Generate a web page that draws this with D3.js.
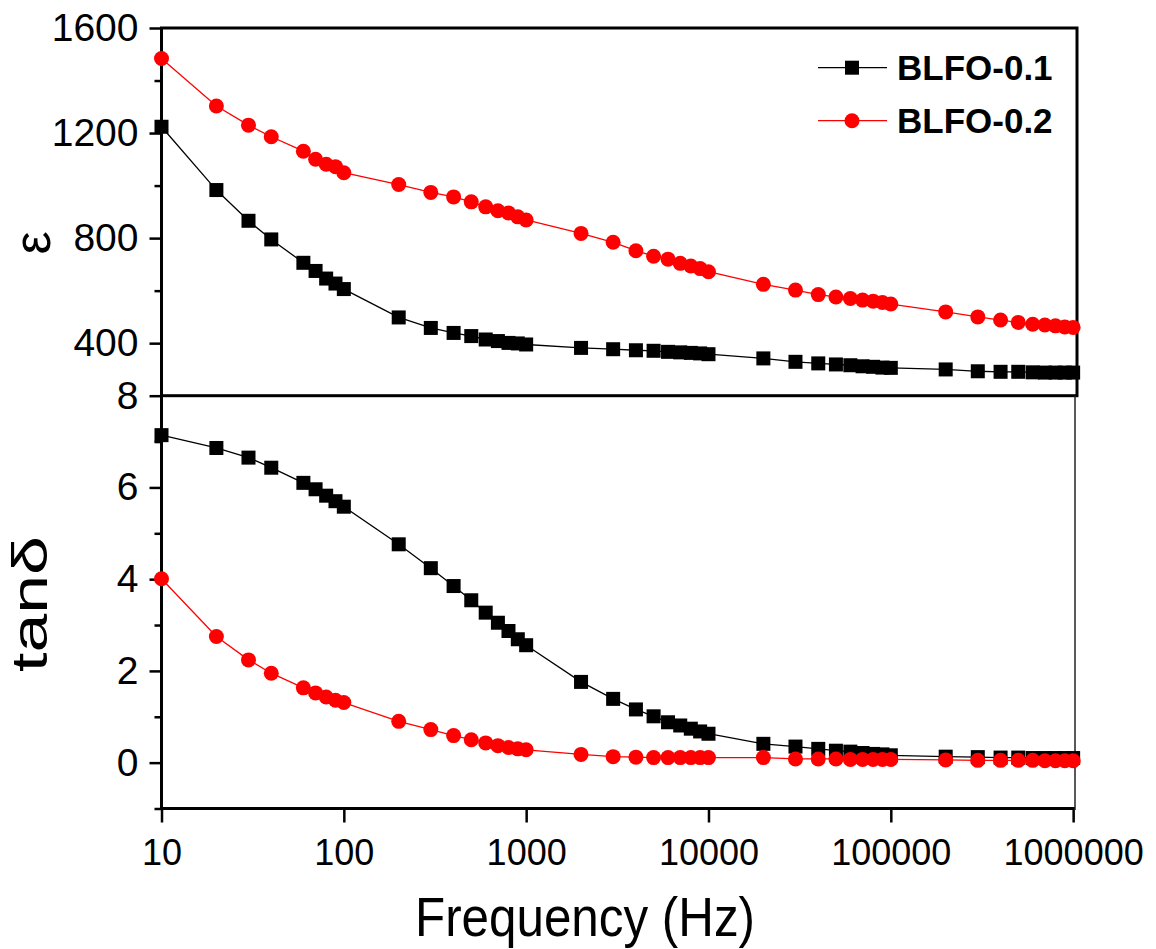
<!DOCTYPE html>
<html>
<head>
<meta charset="utf-8">
<script src="https://cdn.jsdelivr.net/npm/d3@7"></script>
<style>
  body { margin: 0; background: #fff; }
  text { font-family: "Liberation Sans", Arial, sans-serif; }
</style>
</head>
<body>
<div id="chart"></div>
<script>

// frequencies (Hz) - note there is no 50 Hz point in the first decade
var freq = [10, 20, 30, 40, 60, 70, 80, 90, 100,
            200, 300, 400, 500, 600, 700, 800, 900, 1000,
            2000, 3000, 4000, 5000, 6000, 7000, 8000, 9000, 10000,
            20000, 30000, 40000, 50000, 60000, 70000, 80000, 90000, 100000,
            200000, 300000, 400000, 500000, 600000, 700000, 800000, 900000, 1000000];

var eps01 = [1224, 983, 866, 795, 706, 675, 646, 627, 606,
             498, 458, 439, 427, 414, 408, 401, 399, 395,
             382, 377, 373, 371, 367, 365, 363, 361, 358,
             342, 329, 323, 319, 316, 312, 310, 307, 306,
             300, 293, 291, 291, 289, 288, 288, 288, 288];

var eps02 = [1484, 1303, 1230, 1186, 1131, 1100, 1081, 1072, 1049,
             1004, 974, 957, 938, 919, 904, 896, 881, 869,
             818, 784, 752, 731, 720, 704, 694, 684, 672,
             624, 602, 585, 576, 570, 564, 560, 555, 549,
             519, 500, 488, 479, 472, 469, 466, 462, 460];

var tan01 = [7.14, 6.86, 6.65, 6.43, 6.10, 5.96, 5.82, 5.70, 5.58,
             4.76, 4.24, 3.85, 3.54, 3.27, 3.05, 2.87, 2.69, 2.56,
             1.76, 1.39, 1.16, 1.01, 0.88, 0.81, 0.74, 0.68, 0.63,
             0.41, 0.35, 0.30, 0.26, 0.24, 0.21, 0.19, 0.18, 0.16,
             0.13, 0.12, 0.11, 0.11, 0.10, 0.10, 0.10, 0.10, 0.10];

var tan02 = [4.01, 2.75, 2.24, 1.95, 1.63, 1.52, 1.43, 1.36, 1.31,
             0.90, 0.72, 0.59, 0.50, 0.43, 0.37, 0.33, 0.30, 0.28,
             0.18, 0.13, 0.12, 0.11, 0.11, 0.11, 0.11, 0.11, 0.11,
             0.11, 0.08, 0.08, 0.08, 0.07, 0.07, 0.07, 0.07, 0.07,
             0.06, 0.05, 0.05, 0.05, 0.05, 0.04, 0.04, 0.04, 0.04];

var seriesNames = ["BLFO-0.1", "BLFO-0.2"];
var xTicks = [10, 100, 1000, 10000, 100000, 1000000];
var epsTicks = [400, 800, 1200, 1600];
var epsMinor = [600, 1000, 1400];
var tanTicks = [0, 2, 4, 6, 8];
var tanMinor = [-1, 1, 3, 5, 7];

var svg_width = 1156;
var svg_height = 949;
var left = 161.5, right = 1077;
var top1 = 28, mid = 395.7, bottom2 = 808.5;
var sq = 14, rad = 7.5;

var svg = d3.select('#chart')
            .append('svg')
            .attr('width', svg_width)
            .attr('height', svg_height);

var x = d3.scaleLog()
          .domain([10, 1.05e6])
          .range([left, right]);

var yEps = d3.scaleLinear()
             .domain([200, 1600])
             .range([mid, top1]);

var yTan = d3.scaleLinear()
             .domain([-1, 8])
             .range([bottom2, mid]);

function styleAxis(g, fontSize) {
  g.select('.domain').remove();
  g.selectAll('line').attr('stroke', '#000').attr('stroke-width', 2.5);
  g.selectAll('text')
    .attr('fill', '#000')
    .style('font-size', fontSize + 'px')
    .style('font-family', '"Liberation Sans", Arial, sans-serif');
}

// y axes (major + minor ticks, pointing out)
function yAxis(scale, ticks, minor) {
  svg.append('g')
    .attr('transform', 'translate(' + left + ',0)')
    .call(d3.axisLeft(scale).tickValues(minor).tickSize(7).tickFormat(''))
    .call(styleAxis, 39);
  svg.append('g')
    .attr('transform', 'translate(' + left + ',0)')
    .call(d3.axisLeft(scale).tickValues(ticks).tickSize(12).tickPadding(11).tickFormat(d3.format('d')))
    .call(styleAxis, 39);
}
yAxis(yEps, epsTicks, epsMinor);
yAxis(yTan, tanTicks, tanMinor);

// x axis
svg.append('g')
  .attr('transform', 'translate(0,' + bottom2 + ')')
  .call(d3.axisBottom(x).tickValues(xTicks).tickSize(14).tickPadding(17).tickFormat(d3.format('d')))
  .call(styleAxis, 36);

// frames
svg.append('rect')
  .attr('x', left).attr('y', top1)
  .attr('width', right - left).attr('height', mid - top1)
  .attr('fill', 'none').attr('stroke', '#000').attr('stroke-width', 3);
svg.append('path')
  .attr('d', 'M' + left + ',' + mid + 'V' + bottom2 + 'H' + (right - 2))
  .attr('fill', 'none').attr('stroke', '#000').attr('stroke-width', 3);
svg.append('line')
  .attr('x1', right - 2).attr('x2', right - 2)
  .attr('y1', mid).attr('y2', bottom2 + 1.5)
  .attr('stroke', '#222').attr('stroke-width', 1.5);

// series
function drawSeries(scale, values, color, shape) {
  var pts = freq.map(function(f, i) { return [x(f), scale(values[i])]; });
  svg.append('path')
    .attr('d', d3.line()(pts))
    .attr('fill', 'none')
    .attr('stroke', color)
    .attr('stroke-width', 1.3);
  if (shape === 'square') {
    svg.append('g').selectAll('rect')
      .data(pts)
      .enter()
        .append('rect')
        .attr('x', function(d) { return d[0] - sq / 2; })
        .attr('y', function(d) { return d[1] - sq / 2; })
        .attr('width', sq)
        .attr('height', sq)
        .attr('fill', color);
  } else {
    svg.append('g').selectAll('circle')
      .data(pts)
      .enter()
        .append('circle')
        .attr('cx', function(d) { return d[0]; })
        .attr('cy', function(d) { return d[1]; })
        .attr('r', rad)
        .attr('fill', color);
  }
}

drawSeries(yEps, eps01, '#000', 'square');
drawSeries(yEps, eps02, '#ff0000', 'circle');
drawSeries(yTan, tan01, '#000', 'square');
drawSeries(yTan, tan02, '#ff0000', 'circle');

// legend
var legend = [
  {name: seriesNames[0], color: '#000', shape: 'square', y: 67.7},
  {name: seriesNames[1], color: '#ff0000', shape: 'circle', y: 120.7}
];
legend.forEach(function(d) {
  svg.append('line')
    .attr('x1', 818).attr('x2', 887)
    .attr('y1', d.y).attr('y2', d.y)
    .attr('stroke', d.color).attr('stroke-width', 1.3);
  if (d.shape === 'square') {
    svg.append('rect')
      .attr('x', 852 - sq / 2).attr('y', d.y - sq / 2)
      .attr('width', sq).attr('height', sq)
      .attr('fill', d.color);
  } else {
    svg.append('circle')
      .attr('cx', 852).attr('cy', d.y).attr('r', rad)
      .attr('fill', d.color);
  }
  svg.append('text')
    .attr('x', 897)
    .attr('y', d.y + 12.5)
    .attr('font-size', 35)
    .attr('font-weight', 'bold')
    .text(d.name);
});

// axis titles
svg.append('text')
  .attr('transform', 'translate(50,243) rotate(-90)')
  .attr('text-anchor', 'middle')
  .attr('font-size', 52)
  .text('ε');

svg.append('text')
  .attr('transform', 'translate(47,604) rotate(-90)')
  .attr('text-anchor', 'middle')
  .attr('font-size', 50)
  .attr('textLength', 136)
  .attr('lengthAdjust', 'spacingAndGlyphs')
  .text('tanδ');

svg.append('text')
  .attr('x', 585)
  .attr('y', 936)
  .attr('text-anchor', 'middle')
  .attr('font-size', 55)
  .attr('textLength', 340)
  .attr('lengthAdjust', 'spacingAndGlyphs')
  .text('Frequency (Hz)');

</script>
</body>
</html>
